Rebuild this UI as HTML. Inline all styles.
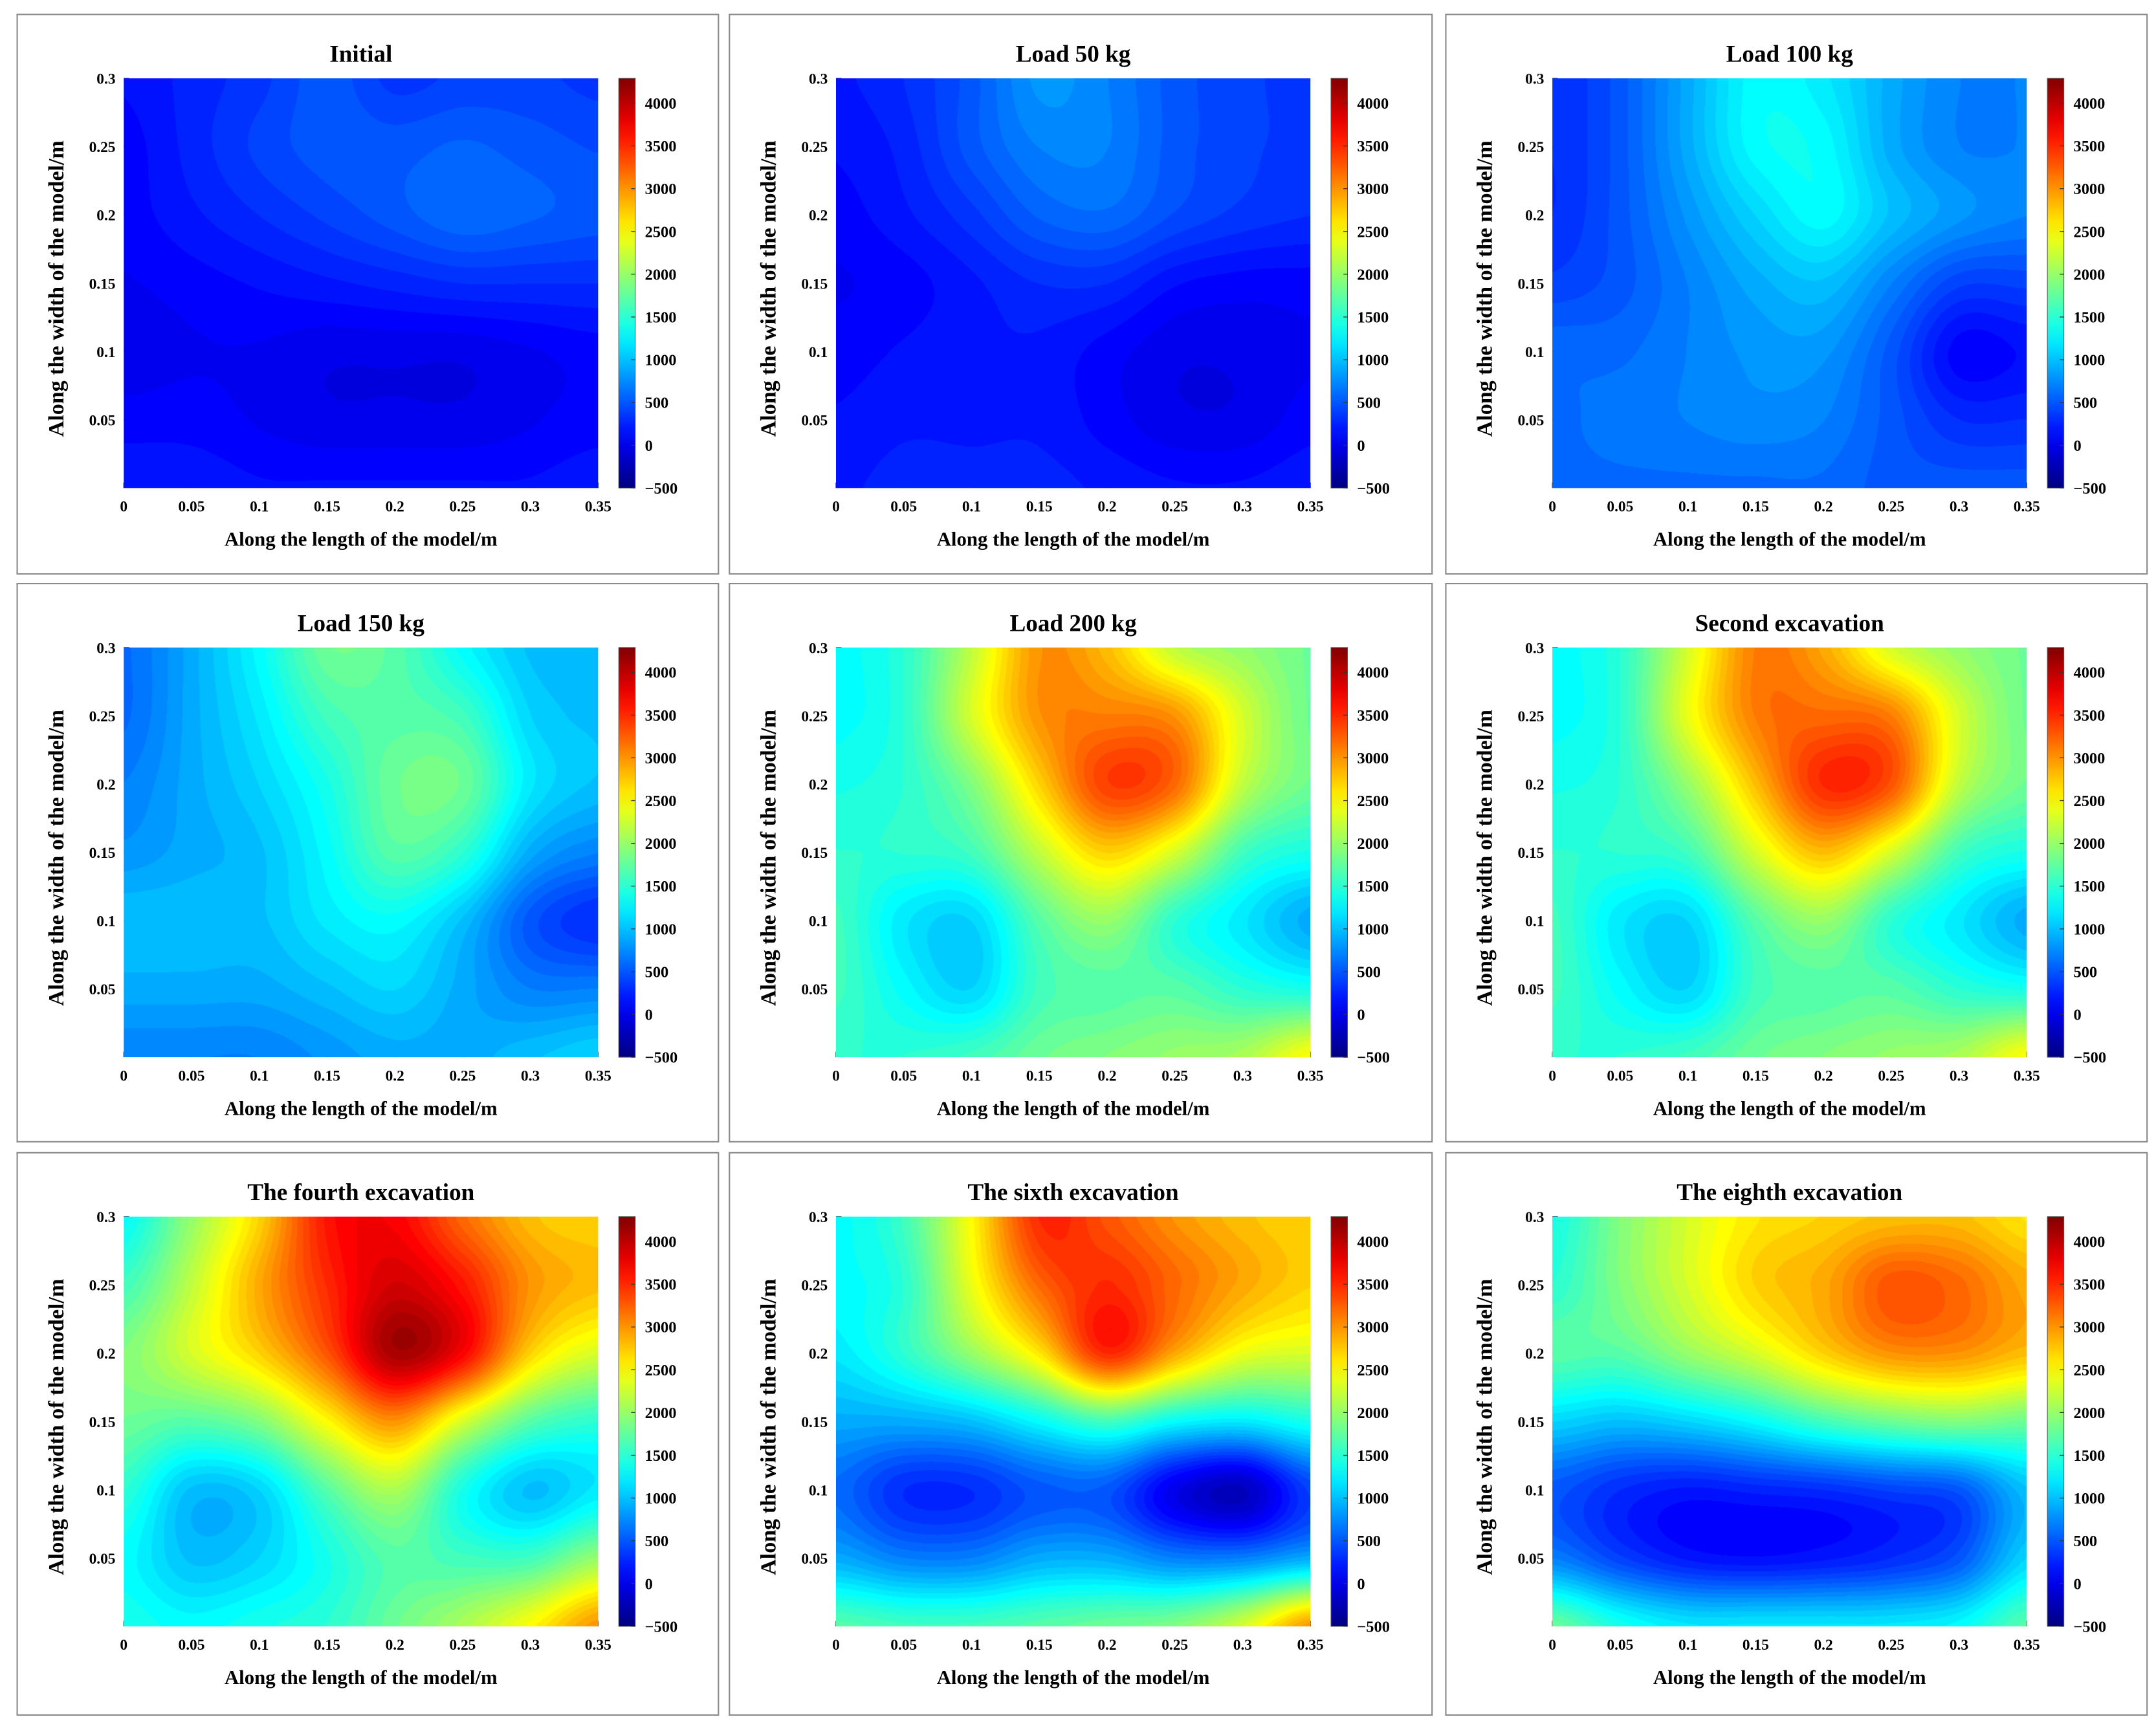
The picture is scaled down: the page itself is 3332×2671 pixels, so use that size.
<!DOCTYPE html>
<html><head><meta charset="utf-8">
<style>
html,body{margin:0;padding:0;background:#fff;}
#root{position:absolute;left:0;top:0;width:1568px;height:1257px;transform:scale(2.125);transform-origin:0 0;}
#svg{position:absolute;left:0;top:0;}
canvas{position:absolute;}
</style></head>
<body>
<div id="root">
<svg id="svg" width="1568" height="1257" viewBox="0 0 1568 1257" xmlns="http://www.w3.org/2000/svg"></svg>
</div>
<script>
// ---- data ----
const titles = ["Initial","Load 50 kg","Load 100 kg","Load 150 kg","Load 200 kg","Second excavation","The fourth excavation","The sixth excavation","The eighth excavation"];
const xTicks = ["0","0.05","0.1","0.15","0.2","0.25","0.3","0.35"];
const yTicks = ["0.05","0.1","0.15","0.2","0.25","0.3"];
const cbTicks = [-500,0,500,1000,1500,2000,2500,3000,3500,4000];
const xGrid = [0,0.05,0.1,0.15,0.2,0.25,0.3,0.35];
const yGrid = [0.3,0.25,0.2,0.15,0.1,0.05,0];
const fieldInitial = [
[150,250,350,500,350,400,400,350],
[100,250,400,500,500,550,500,450],
[100,200,300,400,500,600,550,500],
[50,100,150,200,250,300,300,300],
[0,50,50,0,0,0,50,100],
[100,100,50,0,0,0,50,100],
[200,200,150,150,150,150,150,200]];
const fieldLoad50 = [
[200,300,500,800,700,500,400,350],
[150,250,500,700,700,500,400,350],
[100,200,350,550,600,450,350,300],
[50,100,200,300,300,150,100,100],
[100,150,200,200,100,0,0,50],
[150,200,200,200,100,0,0,100],
[200,250,250,250,200,150,150,200]];
const fieldLoad100 = [
[300,500,900,1300,1200,900,700,700],
[300,500,900,1300,1300,900,700,700],
[300,500,800,1100,1300,1000,800,700],
[400,500,700,900,1000,700,400,400],
[600,600,700,800,800,500,100,150],
[600,650,700,750,700,500,300,300],
[600,600,600,600,600,500,500,500]];
const fieldLoad150 = [
[600,900,1300,1800,1700,1300,1000,1000],
[600,900,1200,1600,1700,1600,1100,1000],
[700,900,1100,1400,1800,1800,1200,1000],
[800,900,1000,1300,1700,1500,900,700],
[1000,1000,1000,1200,1300,1000,500,300],
[900,900,900,1000,1100,900,700,700],
[700,700,700,800,900,900,1000,1100]];
const fieldLoad200 = [
[1300,1500,2200,3000,2800,2200,2000,1800],
[1300,1500,2300,3000,3100,3000,2300,1800],
[1400,1500,1900,2700,3400,3200,2200,1800],
[1500,1500,1600,2200,2700,2300,1600,1400],
[1600,1200,1100,1700,2000,1500,1200,900],
[1600,1300,1100,1600,1700,1700,1500,1400],
[1500,1500,1600,1800,1900,2000,2100,2500]];
const fieldSecond = [
[1300,1500,2300,3100,2900,2300,2000,1800],
[1300,1500,2400,3100,3200,3100,2300,1800],
[1400,1500,2000,2800,3500,3300,2200,1800],
[1500,1500,1600,2300,2800,2300,1600,1400],
[1600,1200,1100,1700,2000,1500,1200,900],
[1600,1300,1100,1600,1700,1700,1500,1400],
[1500,1500,1600,1800,1900,2000,2100,2500]];
const fieldFourth = [
[1300,2000,2700,3600,3700,3200,2800,2700],
[1600,2200,2900,3500,3900,3600,3000,2800],
[1900,2300,2700,3300,4100,3700,2700,2300],
[1800,1700,1900,2500,3000,2300,1700,1500],
[1500,1000,1100,1700,2100,1400,1000,1200],
[1300,1000,1100,1400,1700,1600,1600,2000],
[1400,1300,1400,1500,1800,2100,2500,3000]];
const fieldSixth = [
[1300,1600,2500,3500,3300,3000,2800,2700],
[1300,1500,2400,3200,3500,3200,2900,2700],
[1200,1500,2000,2600,3500,2900,2400,2300],
[900,900,1000,1300,1600,1300,1200,1400],
[600,300,300,500,500,0,-200,400],
[900,700,700,900,900,700,700,900],
[1700,1600,1600,1700,1800,1900,2300,3000]];
const fieldEighth = [
[1400,1900,2300,2600,2700,2800,2800,2600],
[1500,1900,2300,2700,2900,3300,3200,2900],
[1700,1700,2000,2300,2700,3000,3000,2800],
[1100,1000,1100,1300,1600,1800,1900,1800],
[500,300,200,250,300,400,500,1000],
[700,400,200,150,200,300,500,1100],
[1800,1400,1200,1200,1200,1200,1300,1700]];
const fields = [fieldInitial,fieldLoad50,fieldLoad100,fieldLoad150,fieldLoad200,fieldSecond,fieldFourth,fieldSixth,fieldEighth];

// ---- layout ----
const colX = [12,530,1051], colW = [510,511,510];
const rowY = [10,424,838], rowH = [407,406,409];
const vMin = -500, vMax = 4290, xMax = 0.35, yMax = 0.3;
const NS = "http://www.w3.org/2000/svg";
const svg = document.getElementById('svg');
const root = document.getElementById('root');
function el(tag, attrs, parent, text){const e=document.createElementNS(NS,tag);for(const k in attrs)e.setAttribute(k,attrs[k]);if(text!==undefined)e.textContent=text;(parent||svg).appendChild(e);return e;}
function jet(t){const c=v=>Math.max(0,Math.min(1,v));return [c(1.5-Math.abs(4*t-3)),c(1.5-Math.abs(4*t-2)),c(1.5-Math.abs(4*t-1))].map(v=>Math.round(v*255));}
function cr(p0,p1,p2,p3,t){return 0.5*((2*p1)+(-p0+p2)*t+(2*p0-5*p1+4*p2-p3)*t*t+(-p0+3*p1-3*p2+p3)*t*t*t);}
function sample(g,fx,fy){
  const R=g.length,C=g[0].length;
  const cx=Math.min(Math.floor(fx),C-2), cy=Math.min(Math.floor(fy),R-2);
  const tx=fx-cx, ty=fy-cy;
  const gv=(r,c)=>g[Math.max(0,Math.min(R-1,r))][Math.max(0,Math.min(C-1,c))];
  const rows=[];
  for(let j=-1;j<=2;j++) rows.push(cr(gv(cy+j,cx-1),gv(cy+j,cx),gv(cy+j,cx+1),gv(cy+j,cx+2),tx));
  return cr(rows[0],rows[1],rows[2],rows[3],ty);
}
const F = 'font-family:"Liberation Serif",serif;font-weight:bold;';
fields.forEach((g,i)=>{
  const r=Math.floor(i/3), c=i%3;
  const px=colX[c], py=rowY[r];
  const L=px+78, T=py+47, W=345, H=298;
  const xs=v=>L+v/xMax*W, ys=v=>T+H-v/yMax*H, cs=v=>T+H-(v-vMin)/(vMax-vMin)*H;
  const grp=el('g',{});
  
  
  const box=el('rect',{x:px+0.5,y:py+0.5,width:colW[c],height:rowH[r],fill:'#fff',stroke:'#8a8a8a','stroke-width':1},grp);
  
  
  const tt=el('text',{x:L+W/2,y:py+35,'text-anchor':'middle',style:F+'font-size:17.5px'},grp,titles[i]);
  
  
  const cv=document.createElement('canvas');
  
  
  const CW=733, CH=633; cv.width=CW; cv.height=CH;
  cv.style.left=L+'px'; cv.style.top=T+'px'; cv.style.width=W+'px'; cv.style.height=H+'px';
  root.appendChild(cv);
  const ctx=cv.getContext('2d'); const img=ctx.createImageData(CW,CH);
  const step=(vMax-vMin)/60;
  for(let yy=0;yy<CH;yy++){const yv=yMax*(1-(yy+0.5)/CH); const fy=(yGrid[0]-yv)/(yGrid[0]-yGrid[yGrid.length-1])*(yGrid.length-1);
    for(let xx=0;xx<CW;xx++){const xv=xMax*(xx+0.5)/CW; const fx=xv/xGrid[xGrid.length-1]*(xGrid.length-1);
      let v=sample(g,fx,fy); v=vMin+(Math.floor((v-vMin)/step)+0.5)*step;
      const col=jet(Math.max(0,Math.min(1,(v-vMin)/(vMax-vMin))));
      const k=(yy*CW+xx)*4; img.data[k]=col[0];img.data[k+1]=col[1];img.data[k+2]=col[2];img.data[k+3]=255;}}
  ctx.putImageData(img,0,0);
  xTicks.forEach((t,k)=>{const x=xs(xGrid[k]);
    el('line',{x1:x,y1:T+H,x2:x,y2:T+H-4,stroke:'#333','stroke-width':0.6},grp);
    const e=el('text',{x:x,y:T+H+17,'text-anchor':'middle',style:F+'font-size:11px'},grp,t);
    
    });
  yTicks.forEach((t,k)=>{const y=ys(parseFloat(t));
    el('line',{x1:L,y1:y,x2:L+4,y2:y,stroke:'#333','stroke-width':0.6},grp);
    const e=el('text',{x:L-6,y:y+4,'text-anchor':'end',style:F+'font-size:11px'},grp,t);
    
    });
  const xl=el('text',{x:L+W/2,y:T+H+42,'text-anchor':'middle',style:F+'font-size:14.5px'},grp,'Along the length of the model/m');
  
  
  const yl=el('text',{x:0,y:0,'text-anchor':'middle',transform:`translate(${px+34},${T+H/2+4}) rotate(-90)`,style:F+'font-size:16px'},grp,'Along the width of the model/m');
  
  
  const CBx=L+360, CBw=12;
  const defs=el('defs',{},grp);
  const lg=el('linearGradient',{id:'cb'+i,x1:0,y1:1,x2:0,y2:0},defs);
  for(let s=0;s<=20;s++){const col=jet(s/20);el('stop',{offset:s/20,'stop-color':`rgb(${col})`},lg);}
  const cb=el('rect',{x:CBx,y:T,width:CBw,height:H,fill:`url(#cb${i})`,stroke:'#555','stroke-width':0.5},grp);
  
  
  cbTicks.forEach(v=>{const y=cs(v);
    el('line',{x1:CBx+CBw-3,y1:y,x2:CBx+CBw,y2:y,stroke:'#333','stroke-width':0.6},grp);
    const e=el('text',{x:CBx+CBw+7,y:y+4,style:F+'font-size:11.5px'},grp,v<0?'\u2212'+(-v):String(v));
    
    });
});
</script>
</body></html>
